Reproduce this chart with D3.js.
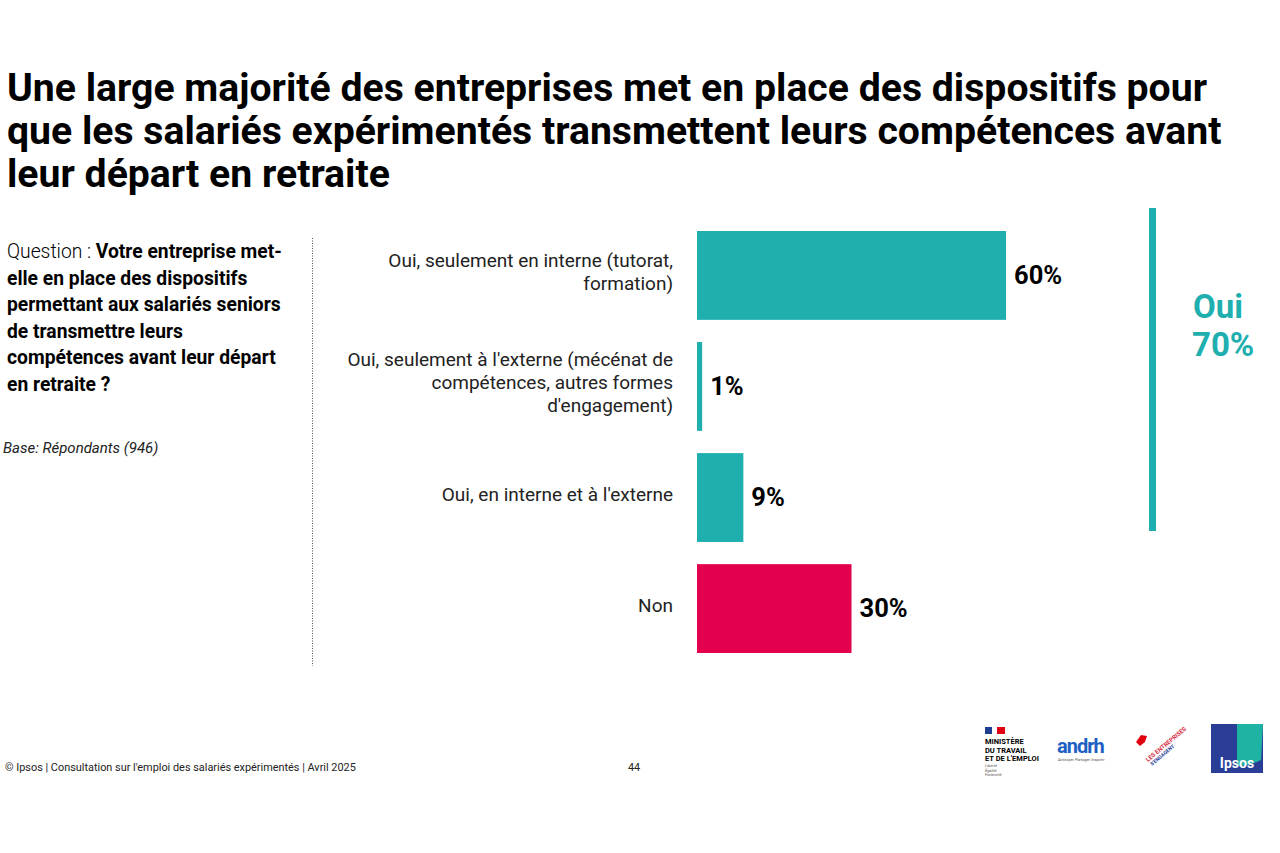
<!DOCTYPE html>
<html>
<head>
<meta charset="utf-8">
<script src="https://cdn.jsdelivr.net/npm/d3@7"></script>
<style>
  body { margin: 0; background: #fff; }
  svg { display: block; font-family: Roboto, "Noto Sans", sans-serif; }
</style>
</head>
<body>
<svg id="chart" width="1280" height="853"></svg>
<script>
// ===== DATA =====
const categories = [
  ["Oui, seulement en interne (tutorat,", "formation)"],
  ["Oui, seulement à l'externe (mécénat de", "compétences, autres formes", "d'engagement)"],
  ["Oui, en interne et à l'externe"],
  ["Non"]
];
const values = [60, 1, 9, 30];
const barColors = ["#20AFAF", "#20AFAF", "#20AFAF", "#E3004F"];
const ouiTotal = 70;

const titleLines = [
  "Une large majorité des entreprises met en place des dispositifs pour",
  "que les salariés expérimentés transmettent leurs compétences avant",
  "leur départ en retraite"
];
const questionLines = [
  "Votre entreprise met-",
  "elle en place des dispositifs",
  "permettant aux salariés seniors",
  "de transmettre leurs",
  "compétences avant leur départ",
  "en retraite ?"
];

const svg = d3.select("#chart");

// ===== TITLE =====
svg.append("g").selectAll("text")
  .data(titleLines)
  .enter()
  .append("text")
  .attr("x", 7)
  .attr("y", (d, i) => 101 + i * 43)
  .attr("font-size", 39.2)
  .attr("font-weight", 700)
  .attr("fill", "#000")
  .text(d => d);

// ===== QUESTION (left panel) =====
const q = svg.append("g");
questionLines.forEach((line, i) => {
  const t = q.append("text")
    .attr("x", 7)
    .attr("y", 258 + i * 26.5)
    .attr("font-size", 19.3)
    .attr("fill", "#000");
  if (i === 0) {
    t.append("tspan").attr("font-weight", 300).text("Question : ");
  }
  t.append("tspan").attr("font-weight", 700).text(line);
});

svg.append("text")
  .attr("x", 3)
  .attr("y", 453)
  .attr("font-size", 15)
  .attr("font-style", "italic")
  .attr("fill", "#222")
  .text("Base: Répondants (946)");

svg.append("line")
  .attr("x1", 312.5).attr("x2", 312.5)
  .attr("y1", 238).attr("y2", 666)
  .attr("stroke", "#555")
  .attr("stroke-width", 1)
  .attr("stroke-dasharray", "1,1.5");

// ===== BARS =====
const x = d3.scaleLinear().domain([0, 100]).range([697, 1212]);
const y = d3.scaleBand()
  .domain(d3.range(values.length))
  .range([231, 653])
  .paddingInner(0.2)
  .paddingOuter(0);

svg.append("g").selectAll("rect")
  .data(values)
  .enter()
  .append("rect")
  .attr("x", x(0))
  .attr("y", (d, i) => y(i))
  .attr("width", d => x(d) - x(0))
  .attr("height", y.bandwidth())
  .attr("fill", (d, i) => barColors[i]);

svg.append("g").selectAll("text")
  .data(values)
  .enter()
  .append("text")
  .attr("x", d => x(d) + 8)
  .attr("y", (d, i) => y(i) + y.bandwidth() / 2 + 2)
  .attr("dominant-baseline", "middle")
  .attr("font-size", 25.5)
  .attr("font-weight", 700)
  .attr("fill", "#000")
  .text(d => d + "%");

// category labels
categories.forEach((lines, i) => {
  const cy = y(i) + y.bandwidth() / 2;
  const lh = 23;
  const top = cy - (lines.length - 1) * lh / 2;
  svg.append("text")
    .attr("text-anchor", "end")
    .attr("font-size", 19)
    .attr("fill", "#222")
    .selectAll("tspan")
    .data(lines)
    .enter()
    .append("tspan")
    .attr("x", 673)
    .attr("y", (d, j) => top + j * lh + 3)
    .text(d => d);
});

// ===== OUI BRACKET =====
svg.append("rect")
  .attr("x", 1149)
  .attr("y", 208)
  .attr("width", 7)
  .attr("height", 323)
  .attr("fill", "#20AFAF");

svg.append("text")
  .attr("x", 1193)
  .attr("y", 318)
  .attr("font-size", 33)
  .attr("font-weight", 700)
  .attr("fill", "#20AFAF")
  .text("Oui");
svg.append("text")
  .attr("x", 1192)
  .attr("y", 356)
  .attr("font-size", 33)
  .attr("font-weight", 700)
  .attr("fill", "#20AFAF")
  .text(ouiTotal + "%");

// ===== FOOTER =====
svg.append("text")
  .attr("x", 5)
  .attr("y", 771)
  .attr("font-size", 10.9)
  .attr("fill", "#222")
  .text("© Ipsos | Consultation  sur l'emploi des salariés expérimentés | Avril 2025");
svg.append("text")
  .attr("x", 628)
  .attr("y", 771)
  .attr("font-size", 10.9)
  .attr("fill", "#222")
  .text("44");

// logos (simplified)
const lg = svg.append("g");
lg.append("rect").attr("x", 985).attr("y", 727).attr("width", 7).attr("height", 7).attr("fill", "#1d3e8f");
lg.append("rect").attr("x", 997).attr("y", 727).attr("width", 8).attr("height", 7).attr("fill", "#e1000f");
["MINISTÈRE", "DU TRAVAIL", "ET DE L'EMPLOI"].forEach((t, i) => {
  lg.append("text").attr("x", 985).attr("y", 744 + i * 8.5)
    .attr("font-size", 7.5).attr("font-weight", 700).attr("fill", "#000")
    .attr("textLength", i === 2 ? 54 : null)
    .text(t);
});
["Liberté", "Égalité", "Fraternité"].forEach((t, i) => {
  lg.append("text").attr("x", 985).attr("y", 767 + i * 4.5)
    .attr("font-size", 4).attr("font-style", "italic").attr("fill", "#555").text(t);
});
lg.append("text").attr("x", 1057).attr("y", 753)
  .attr("font-size", 20).attr("font-weight", 700).attr("fill", "#1e5fc4")
  .attr("letter-spacing", -1).text("andrh");
lg.append("text").attr("x", 1058).attr("y", 761)
  .attr("font-size", 4).attr("fill", "#555").text("Anticiper Partager Inspirer");
lg.append("path")
  .attr("d", "M1136,742 l5,-7 l6,1 l-2,6 l-5,4 z")
  .attr("fill", "#e1000f");
lg.append("text")
  .attr("transform", "translate(1148,762) rotate(-40)")
  .attr("font-size", 6).attr("font-weight", 700).attr("fill", "#d7263d")
  .text("LES ENTREPRISES");
lg.append("text")
  .attr("transform", "translate(1152,766) rotate(-40)")
  .attr("font-size", 5).attr("font-weight", 700).attr("fill", "#2b3e97")
  .text("S'ENGAGENT");
lg.append("path").attr("d", "M1211,724 L1263,724 L1263,773 L1211,773 Z").attr("fill", "#2b3e97");
lg.append("path").attr("d", "M1237,724 L1263,724 L1261,760 Q1250,766 1237,766 Z").attr("fill", "#1fb3a4");
lg.append("text").attr("x", 1237).attr("y", 768).attr("text-anchor", "middle")
  .attr("font-size", 14).attr("font-weight", 700).attr("fill", "#fff").text("Ipsos");
</script>
</body>
</html>
